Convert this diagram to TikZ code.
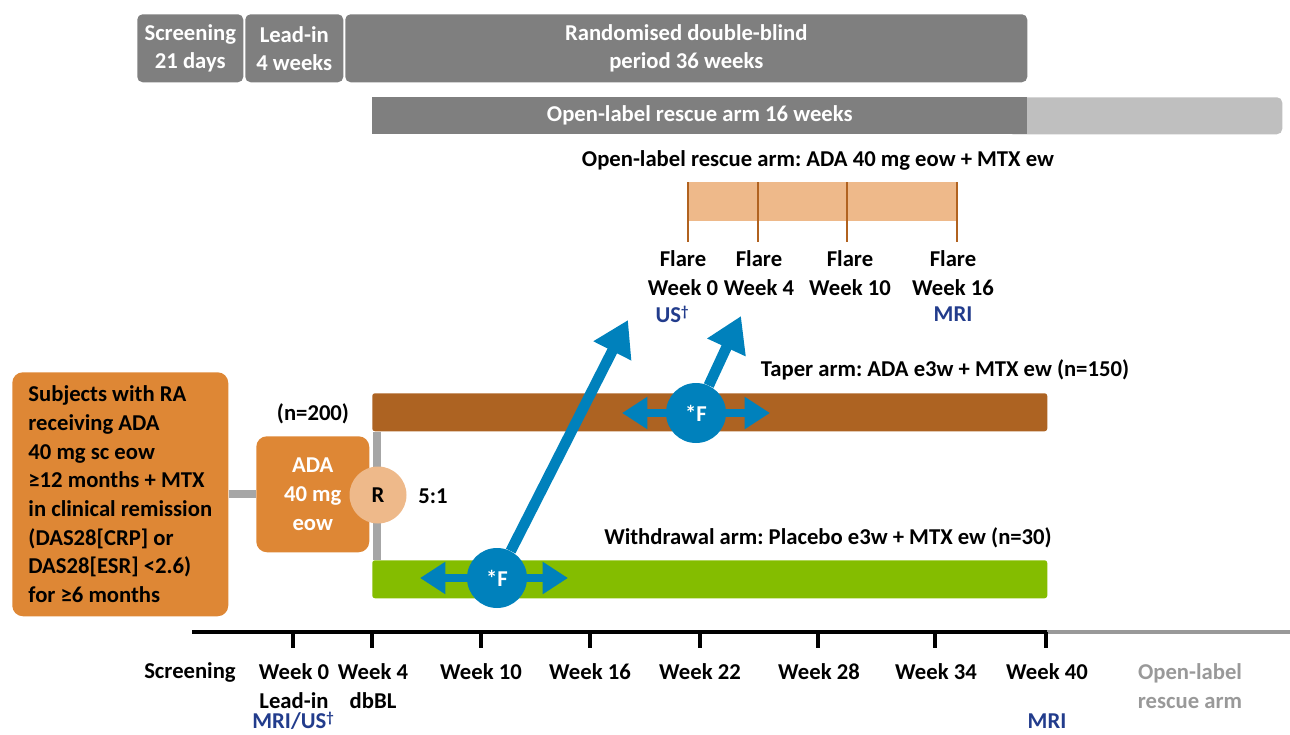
\documentclass[tikz,border=0pt]{standalone}
\usepackage{fontspec}
\setmainfont{Carlito}
\usepackage{tikz}
\usetikzlibrary{arrows.meta,calc}
\usepackage{xcolor}
\definecolor{PhaseGray}{HTML}{7F7F7F}
\definecolor{PhaseLight}{HTML}{BFBFBF}
\definecolor{RescuePeach}{HTML}{EEB98A}
\definecolor{RescueTick}{HTML}{B1621F}
\definecolor{TaperBrown}{HTML}{AD6322}
\definecolor{WithdrawGreen}{HTML}{84BD00}
\definecolor{FlareBlue}{HTML}{0081BC}
\definecolor{SubjOrange}{HTML}{DE8735}
\definecolor{ConnGray}{HTML}{A6A6A6}
\definecolor{ScanNavy}{HTML}{223C8C}
\definecolor{AxisGray}{HTML}{999999}
\newcommand{\dagsup}{\raisebox{0.55ex}{\fontsize{11}{11}\selectfont\dag}}
\frenchspacing

\begin{document}
\begin{tikzpicture}[x=0.75pt,y=-0.75pt,
    font=\bfseries\fontsize{17}{21.5}\selectfont,
    box/.style 2 args={minimum width=#1*0.75pt,minimum height=#2*0.75pt,inner sep=0pt,anchor=north west},
    phase/.style={fill=PhaseGray,rounded corners=4pt,text=white,align=center,font=\bfseries\fontsize{17}{21}\selectfont},
    orbox/.style={fill=SubjOrange,rounded corners=8pt},
    armbar/.style={rounded corners=2pt},
    conn/.style={draw=ConnGray,line width=6pt},
    olticks/.style={draw=RescueTick,line width=2pt},
    scan/.style={text=ScanNavy},
    flare/.style={circle,fill=FlareBlue,text=white,minimum size=60*0.75pt,inner sep=0pt},
    flarebi/.style={draw=FlareBlue,line width=6.5pt,{Triangle[width=23pt,length=19pt]}-{Triangle[width=23pt,length=19pt]}},
    flareup/.style={draw=FlareBlue,line width=8pt,-{Triangle[width=30pt,length=26pt]}},
    axis/.style={line width=3.5pt},
    axtick/.style={line width=2.5pt}]

    \useasboundingbox (0,0) rectangle (1290,735);

    \node[phase,box={106}{68}] (screen) at (137,14) {Screening\\21 days};
    \node[phase,box={98}{68}] (leadin) at (245,14) {Lead-in\\4 weeks};
    \node[phase,box={682}{68}] (dblind) at (345,14) {Randomised double-blind\\period 36 weeks};
    \node[fill=PhaseLight,rounded corners=4pt,box={275}{37}] (olrest) at (1007,97) {};
    \node[phase,rounded corners=0pt,box={655}{37}] (olphase) at (372,97) {Open-label rescue arm 16 weeks};

    \node (oltitle) at (818,160) {Open-label rescue arm: ADA 40 mg eow + MTX ew};
    \node[fill=RescuePeach,box={269}{39}] (olbar) at (688,182) {};
    \foreach \x in {688,758,847,957}
        \draw[olticks] (\x,182) -- (\x,242);
    \foreach \x/\w/\n in {683/0/fw0,759/4/fw4,850/10/fw10,953/16/fw16}
        \node[align=center] (\n) at (\x,273) {Flare\\Week \w};
    \node[scan] (usflare) at (672,314) {US\dagsup};
    \node[scan] (mriflare) at (953,314) {MRI};

    \node[orbox,box={216}{244},align=left] (subj) at (12,372) {Subjects with RA\\receiving ADA\\40 mg sc eow\\≥12 months + MTX\\in clinical remission\\(DAS28[CRP] or\\DAS28[ESR] <2.6)\\for ≥6 months};
    \node[orbox,box={113}{116},text=white,align=center] (ada) at (256,436) {ADA\\40 mg\\eow};
    \node (n200) at (313,414) {(n=200)};

    \node[armbar,fill=TaperBrown,box={675}{38}] (taper) at (372,393) {};
    \node[armbar,fill=WithdrawGreen,box={675}{38}] (withdraw) at (372,560) {};
    \node (taperlbl) at (945,370) {Taper arm: ADA e3w + MTX ew (n=150)};
    \node (withlbl) at (828,538) {Withdrawal arm: Placebo e3w + MTX ew (n=30)};

    \draw[conn] (subj) -- (ada);
    \draw[conn] ([xshift=4pt]taper.south west) -- ([xshift=4pt]withdraw.north west);
    \node[circle,fill=RescuePeach,minimum size=57*0.75pt,inner sep=0pt] (rand) at (378,495) {R};
    \node (ratio) at (433,496) {5:1};

    \coordinate (f1l) at (420,578);
    \coordinate (f1r) at (568,578);
    \coordinate (f1tip) at (628,320);
    \draw[flarebi] (f1l) -- (f1r);
    \node[flare] (f1) at (497,578) {*F};
    \draw[flareup] (f1) -- (f1tip);

    \coordinate (f2l) at (622,413);
    \coordinate (f2r) at (770,413);
    \coordinate (f2tip) at (741,316);
    \draw[flarebi] (f2l) -- (f2r);
    \node[flare] (f2) at (696,413) {*F};
    \draw[flareup] (f2) -- (f2tip);

    \draw[axis] (192,632) -- (1047,632);
    \draw[axis,draw=AxisGray] (1047,632) -- (1290,632);
    \foreach \x in {293,372,481,590,700,818,935,1046}
        \draw[axtick] (\x,632) -- (\x,648);

    \node (tscreen) at (190,672) {Screening};
    \node[align=center] (tw0) at (294,686) {Week 0\\Lead-in};
    \node[align=center] (tw4) at (373,686) {Week 4\\dbBL};
    \foreach \x/\w in {481/10,590/16,700/22,819/28,936/34,1047/40}
        \node (tw\w) at (\x,672) {Week \w};
    \node[align=center,text=AxisGray] (tol) at (1190,686) {Open-label\\rescue arm};
    \node[scan] (mri0) at (293,721) {MRI/US\dagsup};
    \node[scan] (mri40) at (1047,721) {MRI};
\end{tikzpicture}
\end{document}
